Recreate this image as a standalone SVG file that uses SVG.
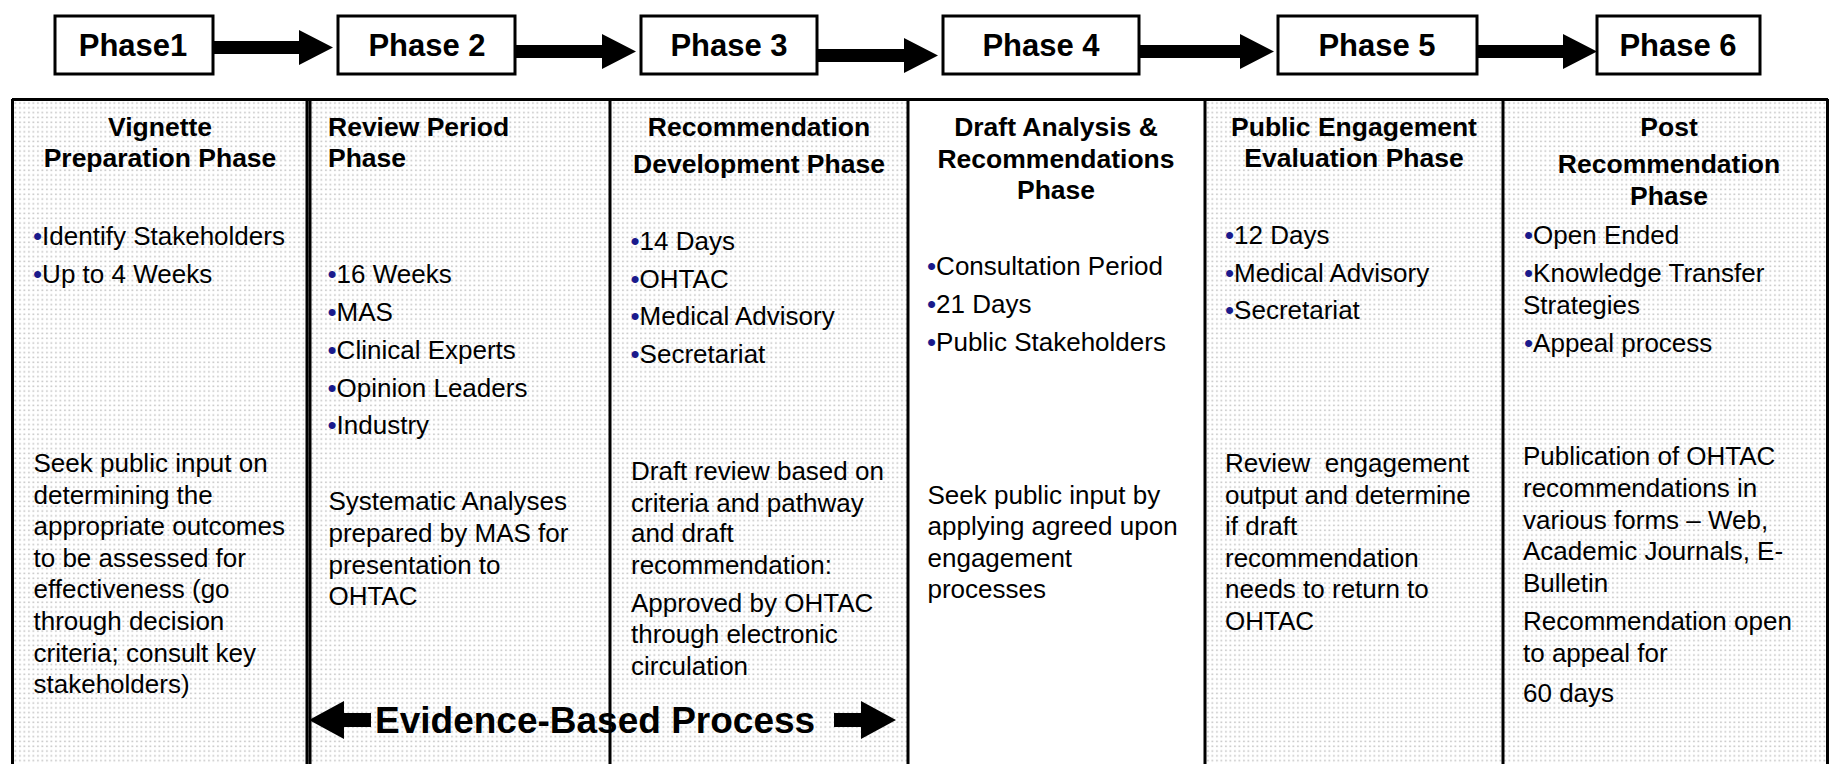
<svg xmlns="http://www.w3.org/2000/svg" width="1837" height="764" viewBox="0 0 1837 764">
  <style>
    text { font-family: "Liberation Sans", Arial, sans-serif; fill: #000; }
    .phase-box { fill: #fff; stroke: #000; stroke-width: 3; }
    .phase-label { font-size: 31px; font-weight: bold; text-anchor: middle; }
    .arrow { fill: #000; }
    .head { font-size: 26.5px; font-weight: bold; }
    .mid { text-anchor: middle; }
    .body { font-size: 26px; }
    .b { fill: #1a1a8c; }
    .rule { stroke: #000; stroke-width: 3; }
    .evidence { font-size: 37px; font-weight: bold; }
  </style>
  <defs>
    <!-- light dotted screen used as column fill -->
    <pattern id="dots" width="4.5" height="4.8" patternUnits="userSpaceOnUse">
      <rect width="4.5" height="4.8" fill="#fff"/>
      <rect x="1" y="1.5" width="1.8" height="1.5" fill="#c8c8c8"/>
    </pattern>
  </defs>

  <rect width="1837" height="764" fill="#fff"/>

  <!-- top row of phase boxes -->
  <g id="phase1"><rect class="phase-box" x="55" y="16" width="158" height="58"/><text class="phase-label" x="133" y="56">Phase1</text></g>
  <g id="phase2"><rect class="phase-box" x="338" y="16" width="177" height="58"/><text class="phase-label" x="427" y="56">Phase 2</text></g>
  <g id="phase3"><rect class="phase-box" x="641" y="16" width="176" height="58"/><text class="phase-label" x="729" y="56">Phase 3</text></g>
  <g id="phase4"><rect class="phase-box" x="943" y="16" width="196" height="58"/><text class="phase-label" x="1041" y="56">Phase 4</text></g>
  <g id="phase5"><rect class="phase-box" x="1278" y="16" width="199" height="58"/><text class="phase-label" x="1377" y="56">Phase 5</text></g>
  <g id="phase6"><rect class="phase-box" x="1597" y="16" width="163" height="58"/><text class="phase-label" x="1678" y="56">Phase 6</text></g>

  <!-- block arrows between phases -->
  <g id="connectors">
    <polygon class="arrow" points="214,41 299,41 299,30 333,47.5 299,65 299,54 214,54"/>
    <polygon class="arrow" points="516,45 602,45 602,34 636,51.5 602,69 602,58 516,58"/>
    <polygon class="arrow" points="818,49 904,49 904,38 938,55.5 904,73 904,62 818,62"/>
    <polygon class="arrow" points="1140,45 1240,45 1240,34 1274,51.5 1240,69 1240,58 1140,58"/>
    <polygon class="arrow" points="1478,45 1563,45 1563,34 1597,51.5 1563,69 1563,58 1478,58"/>
  </g>

  <!-- column backgrounds -->
  <g id="table">
    <rect x="12" y="99" width="296" height="670" fill="url(#dots)"/>
    <rect x="308" y="99" width="302" height="670" fill="url(#dots)"/>
    <rect x="610" y="99" width="297" height="670" fill="url(#dots)"/>
    <rect x="907" y="99" width="298" height="670" fill="#fff"/>
    <rect x="1205" y="99" width="297" height="670" fill="url(#dots)"/>
    <rect x="1502" y="99" width="326" height="670" fill="url(#dots)"/>
    <!-- outer frame and column rules -->
    <line class="rule" x1="12" y1="99.5" x2="1828" y2="99.5" stroke-width="2.5"/>
    <line class="rule" x1="12.5" y1="99" x2="12.5" y2="770" stroke-width="2"/>
    <line class="rule" x1="1827.5" y1="99" x2="1827.5" y2="770" stroke-width="2"/>
    <line class="rule" x1="307" y1="99" x2="307" y2="770" stroke-width="1.6"/>
    <line class="rule" x1="310" y1="99" x2="310" y2="770" stroke-width="1.6"/>
    <line class="rule" x1="610" y1="99" x2="610" y2="770" stroke-width="3"/>
    <line class="rule" x1="908" y1="99" x2="908" y2="770" stroke-width="2.5"/>
    <line class="rule" x1="1205" y1="99" x2="1205" y2="770" stroke-width="3"/>
    <line class="rule" x1="1503" y1="99" x2="1503" y2="770" stroke-width="2.5"/>
  </g>

  <!-- column 1 -->
  <g id="col-vignette">
    <text class="head mid" x="160" y="136">Vignette</text>
    <text class="head mid" x="160" y="167">Preparation Phase</text>
    <text class="body" x="33" y="245"><tspan class="b">•</tspan>Identify Stakeholders</text>
    <text class="body" x="33" y="282.5"><tspan class="b">•</tspan>Up to 4 Weeks</text>
    <text class="body" x="33.5" y="472">Seek public input on</text>
    <text class="body" x="33.5" y="503.5">determining the</text>
    <text class="body" x="33.5" y="535">appropriate outcomes</text>
    <text class="body" x="33.5" y="566.5">to be assessed for</text>
    <text class="body" x="33.5" y="598">effectiveness (go</text>
    <text class="body" x="33.5" y="630">through decision</text>
    <text class="body" x="33.5" y="661.5">criteria; consult key</text>
    <text class="body" x="33.5" y="693">stakeholders)</text>
  </g>

  <!-- column 2 -->
  <g id="col-review">
    <text class="head" x="328" y="136">Review Period</text>
    <text class="head" x="328" y="167">Phase</text>
    <text class="body" x="327.5" y="283"><tspan class="b">•</tspan>16 Weeks</text>
    <text class="body" x="327.5" y="321"><tspan class="b">•</tspan>MAS</text>
    <text class="body" x="327.5" y="359"><tspan class="b">•</tspan>Clinical Experts</text>
    <text class="body" x="327.5" y="396.5"><tspan class="b">•</tspan>Opinion Leaders</text>
    <text class="body" x="327.5" y="434"><tspan class="b">•</tspan>Industry</text>
    <text class="body" x="328.5" y="510">Systematic Analyses</text>
    <text class="body" x="328.5" y="541.5">prepared by MAS for</text>
    <text class="body" x="328.5" y="573.5">presentation to</text>
    <text class="body" x="328.5" y="605">OHTAC</text>
  </g>

  <!-- column 3 -->
  <g id="col-recommendation">
    <text class="head mid" x="759" y="136">Recommendation</text>
    <text class="head mid" x="759" y="173">Development Phase</text>
    <text class="body" x="630.5" y="250"><tspan class="b">•</tspan>14 Days</text>
    <text class="body" x="630.5" y="288"><tspan class="b">•</tspan>OHTAC</text>
    <text class="body" x="630.5" y="325"><tspan class="b">•</tspan>Medical Advisory</text>
    <text class="body" x="630.5" y="363"><tspan class="b">•</tspan>Secretariat</text>
    <text class="body" x="631" y="480">Draft review based on</text>
    <text class="body" x="631" y="511.5">criteria and pathway</text>
    <text class="body" x="631" y="542">and draft</text>
    <text class="body" x="631" y="573.5">recommendation:</text>
    <text class="body" x="631" y="611.5">Approved by OHTAC</text>
    <text class="body" x="631" y="643">through electronic</text>
    <text class="body" x="631" y="675">circulation</text>
  </g>

  <!-- column 4 -->
  <g id="col-draft">
    <text class="head mid" x="1056" y="136">Draft Analysis &amp;</text>
    <text class="head mid" x="1056" y="167.5">Recommendations</text>
    <text class="head mid" x="1056" y="199">Phase</text>
    <text class="body" x="927" y="275"><tspan class="b">•</tspan>Consultation Period</text>
    <text class="body" x="927" y="313"><tspan class="b">•</tspan>21 Days</text>
    <text class="body" x="927" y="351"><tspan class="b">•</tspan>Public Stakeholders</text>
    <text class="body" x="927.5" y="503.5">Seek public input by</text>
    <text class="body" x="927.5" y="535">applying agreed upon</text>
    <text class="body" x="927.5" y="566.5">engagement</text>
    <text class="body" x="927.5" y="598">processes</text>
  </g>

  <!-- column 5 -->
  <g id="col-engagement">
    <text class="head mid" x="1354" y="136">Public Engagement</text>
    <text class="head mid" x="1354" y="167">Evaluation Phase</text>
    <text class="body" x="1225" y="243.5"><tspan class="b">•</tspan>12 Days</text>
    <text class="body" x="1225" y="281.5"><tspan class="b">•</tspan>Medical Advisory</text>
    <text class="body" x="1225" y="319"><tspan class="b">•</tspan>Secretariat</text>
    <text class="body" x="1225" y="471.5" style="white-space:pre">Review  engagement</text>
    <text class="body" x="1225" y="503.5">output and determine</text>
    <text class="body" x="1225" y="535">if draft</text>
    <text class="body" x="1225" y="566.5">recommendation</text>
    <text class="body" x="1225" y="598">needs to return to</text>
    <text class="body" x="1225" y="630">OHTAC</text>
  </g>

  <!-- column 6 -->
  <g id="col-post">
    <text class="head mid" x="1669" y="136">Post</text>
    <text class="head mid" x="1669" y="173">Recommendation</text>
    <text class="head mid" x="1669" y="205">Phase</text>
    <text class="body" x="1524" y="243.5"><tspan class="b">•</tspan>Open Ended</text>
    <text class="body" x="1524" y="281.5"><tspan class="b">•</tspan>Knowledge Transfer</text>
    <text class="body" x="1523" y="313.5">Strategies</text>
    <text class="body" x="1524" y="351.5"><tspan class="b">•</tspan>Appeal process</text>
    <text class="body" x="1523" y="465">Publication of OHTAC</text>
    <text class="body" x="1523" y="496.5">recommendations in</text>
    <text class="body" x="1523" y="528.5">various forms – Web,</text>
    <text class="body" x="1523" y="560">Academic Journals, E-</text>
    <text class="body" x="1523" y="591.5">Bulletin</text>
    <text class="body" x="1523" y="630">Recommendation open</text>
    <text class="body" x="1523" y="661.5">to appeal for</text>
    <text class="body" x="1523" y="701.5">60 days</text>
  </g>

  <!-- span label across the evidence-based columns -->
  <g id="evidence-based-process">
    <polygon class="arrow" points="309,720 344,701 344,713 371,713 371,727 344,727 344,739"/>
    <text class="evidence" x="375" y="733">Evidence-Based Process</text>
    <polygon class="arrow" points="896,720 861,701 861,713 834,713 834,727 861,727 861,739"/>
  </g>
</svg>
